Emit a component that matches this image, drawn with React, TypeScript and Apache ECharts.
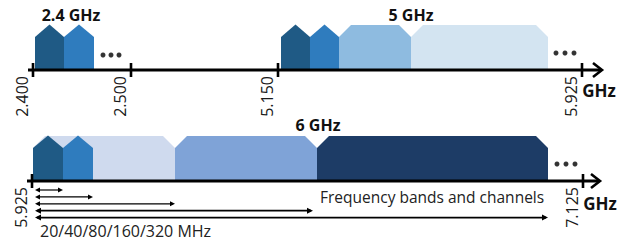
import React, { useEffect, useRef } from "react";
import * as echarts from "echarts";

// Schematic frequency-axis positions (axis units along each spectrum line)
const topAxisRange = [28, 602];
const bottomAxisRange = [27, 600];

const topTickValues = [33, 131, 278, 582];
const topTickLabels = ["2.400", "2.500", "5.150", "5.925"];
const bottomTickValues = [32, 583];
const bottomTickLabels = ["5.925", "7.125"];

// Channels of the 2.4 GHz and 5 GHz bands
const topChannelStart = [35, 64, 281, 310, 339, 411];
const topChannelEnd = [64, 94, 310, 339, 411, 548];
const topChannelWidthMHz = [20, 20, 20, 20, 80, 160];
const topChannelColors = ["#1f5a85", "#2f7cbe", "#1f5a85", "#2f7cbe", "#8ebbe0", "#d3e4f1"];

// Channels of the 6 GHz band
const bottomChannelStart = [33, 33, 63, 175, 317];
const bottomChannelEnd = [175, 63, 93, 317, 548];
const bottomChannelWidthMHz = [80, 20, 20, 160, 320];
const bottomChannelColors = ["#cfdaee", "#1f5a85", "#2f7cbe", "#7fa3d7", "#1d3c66"];

// Channel-width arrows below the 6 GHz axis
const bandwidthMHz = [20, 40, 80, 160, 320];
const bandwidthArrowStart = [35, 35, 35, 35, 35];
const bandwidthArrowEnd = [63, 93, 175, 313, 548];

// Continuation dots
const topDots = [
  [103, 15], [111, 15], [119, 15],
  [556, 17], [565, 17], [574, 17],
];
const bottomDots = [
  [557, 17], [566, 17], [575, 17],
];

const bandTitles = ["2.4 GHz", "5 GHz", "6 GHz"];

const FONT = '"Open Sans", "Noto Sans", sans-serif';
const SHOULDER = 33;
const PEAK = 45.5;
const FLAT = 45;
const CHAMFER = 12;

function channelRender(params: any, api: any) {
  const x0 = api.value(0);
  const x1 = api.value(1);
  const w = api.value(2);
  let pts: number[][];
  if (w === 20) {
    pts = [[x0, 0], [x0, SHOULDER], [(x0 + x1) / 2, PEAK], [x1, SHOULDER], [x1, 0]];
  } else {
    pts = [[x0, 0], [x0, SHOULDER], [x0 + CHAMFER, FLAT], [x1 - CHAMFER, FLAT], [x1, SHOULDER], [x1, 0]];
  }
  return {
    type: "polygon",
    shape: { points: pts.map((p) => api.coord(p)) },
    style: { fill: api.visual("color") },
  };
}

function axisRender(params: any, api: any) {
  const a = api.coord([api.value(0), 0]);
  const b = api.coord([api.value(1), 0]);
  return {
    type: "group",
    children: [
      { type: "line", shape: { x1: a[0], y1: a[1], x2: b[0] - 1, y2: b[1] }, style: { stroke: "#000", lineWidth: 3 } },
      {
        type: "polyline",
        shape: { points: [[b[0] - 9, b[1] - 7], [b[0], b[1]], [b[0] - 9, b[1] + 7]] },
        style: { stroke: "#000", lineWidth: 2.6, fill: "none" },
      },
    ],
  };
}

function tickRender(params: any, api: any) {
  const p = api.coord([api.value(0), 0]);
  const label = (params.seriesName === "topTicks" ? topTickLabels : bottomTickLabels)[params.dataIndex];
  return {
    type: "group",
    children: [
      { type: "line", shape: { x1: p[0], y1: p[1] - 7, x2: p[0], y2: p[1] + 7 }, style: { stroke: "#000", lineWidth: 2.6 } },
      {
        type: "text",
        x: p[0] - 11,
        y: p[1] + 6,
        rotation: Math.PI / 2,
        style: { text: label, fill: "#1a1a1a", font: `16px ${FONT}`, align: "right", verticalAlign: "middle" },
      },
    ],
  };
}

function arrowRender(params: any, api: any) {
  const i = params.dataIndex;
  const a = api.coord([api.value(0), 0]);
  const b = api.coord([api.value(1), 0]);
  const y = a[1] + 9 + i * 6.9;
  const lw = i >= 3 ? 1.8 : 1.2;
  const hl = i >= 3 ? 6 : 5;
  const hw = i >= 3 ? 3 : 2.5;
  return {
    type: "group",
    children: [
      { type: "line", shape: { x1: a[0] + 2, y1: y, x2: b[0] - 2, y2: y }, style: { stroke: "#000", lineWidth: lw } },
      { type: "polygon", shape: { points: [[a[0], y], [a[0] + hl, y - hw], [a[0] + hl, y + hw]] }, style: { fill: "#000" } },
      { type: "polygon", shape: { points: [[b[0], y], [b[0] - hl, y - hw], [b[0] - hl, y + hw]] }, style: { fill: "#000" } },
    ],
  };
}

export default function App() {
  const ref = useRef<HTMLDivElement>(null);
  useEffect(() => {
    document.body.style.margin = "0";
    const chart = echarts.init(ref.current!, undefined, { renderer: "svg" });
    const mk = (s: number[], e: number[], w: number[], c: string[]) =>
      s.map((v, i) => ({ value: [v, e[i], w[i]], itemStyle: { color: c[i] } }));
    chart.setOption({
      animation: false,
      grid: [
        { left: topAxisRange[0], right: 624 - topAxisRange[1], top: 24, height: 46 },
        { left: bottomAxisRange[0], right: 624 - bottomAxisRange[1], top: 135, height: 46 },
      ],
      xAxis: [
        { type: "value", gridIndex: 0, min: topAxisRange[0], max: topAxisRange[1], show: false },
        { type: "value", gridIndex: 1, min: bottomAxisRange[0], max: bottomAxisRange[1], show: false },
      ],
      yAxis: [
        { type: "value", gridIndex: 0, min: 0, max: 46, show: false },
        { type: "value", gridIndex: 1, min: 0, max: 46, show: false },
      ],
      series: [
        {
          type: "custom", name: "topChannels", xAxisIndex: 0, yAxisIndex: 0, clip: false,
          renderItem: channelRender,
          data: mk(topChannelStart, topChannelEnd, topChannelWidthMHz, topChannelColors),
        },
        {
          type: "custom", name: "bottomChannels", xAxisIndex: 1, yAxisIndex: 1, clip: false,
          renderItem: channelRender,
          data: mk(bottomChannelStart, bottomChannelEnd, bottomChannelWidthMHz, bottomChannelColors),
        },
        {
          type: "custom", name: "topAxis", xAxisIndex: 0, yAxisIndex: 0, clip: false, z: 5,
          renderItem: axisRender, data: [topAxisRange],
        },
        {
          type: "custom", name: "bottomAxis", xAxisIndex: 1, yAxisIndex: 1, clip: false, z: 5,
          renderItem: axisRender, data: [bottomAxisRange],
        },
        {
          type: "custom", name: "topTicks", xAxisIndex: 0, yAxisIndex: 0, clip: false, z: 6,
          renderItem: tickRender, data: topTickValues.map((v) => [v]),
        },
        {
          type: "custom", name: "bottomTicks", xAxisIndex: 1, yAxisIndex: 1, clip: false, z: 6,
          renderItem: tickRender, data: bottomTickValues.map((v) => [v]),
        },
        {
          type: "custom", name: "bandwidthArrows", xAxisIndex: 1, yAxisIndex: 1, clip: false,
          renderItem: arrowRender,
          data: bandwidthMHz.map((m, i) => [bandwidthArrowStart[i], bandwidthArrowEnd[i], m]),
        },
        {
          type: "scatter", xAxisIndex: 0, yAxisIndex: 0, symbolSize: 5, data: topDots,
          itemStyle: { color: "#000" }, silent: true,
        },
        {
          type: "scatter", xAxisIndex: 1, yAxisIndex: 1, symbolSize: 5, data: bottomDots,
          itemStyle: { color: "#000" }, silent: true,
        },
      ],
      graphic: [
        { type: "text", x: 71, y: 15, style: { text: bandTitles[0], font: `bold 16px ${FONT}`, fill: "#111", align: "center", verticalAlign: "middle" } },
        { type: "text", x: 411, y: 15, style: { text: bandTitles[1], font: `bold 16px ${FONT}`, fill: "#111", align: "center", verticalAlign: "middle" } },
        { type: "text", x: 318, y: 125, style: { text: bandTitles[2], font: `bold 16px ${FONT}`, fill: "#111", align: "center", verticalAlign: "middle" } },
        { type: "text", x: 599, y: 90, style: { text: "GHz", font: `bold 17px ${FONT}`, fill: "#111", align: "center", verticalAlign: "middle" } },
        { type: "text", x: 600, y: 203, style: { text: "GHz", font: `bold 17px ${FONT}`, fill: "#111", align: "center", verticalAlign: "middle" } },
        { type: "text", x: 320, y: 197, style: { text: "Frequency bands and channels", font: `15.5px ${FONT}`, fill: "#222", align: "left", verticalAlign: "middle" } },
        { type: "text", x: 40, y: 231, style: { text: bandwidthMHz.join("/") + " MHz", font: `16px ${FONT}`, fill: "#222", align: "left", verticalAlign: "middle" } },
      ],
    });
    return () => chart.dispose();
  }, []);
  return <div ref={ref} style={{ width: 624, height: 242 }} />;
}
